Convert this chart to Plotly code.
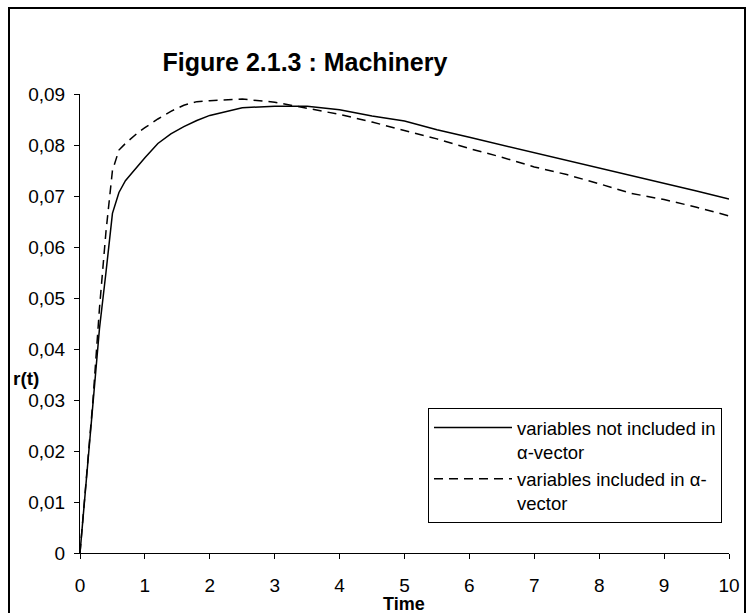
import plotly.graph_objects as go

# Data
t_vals = [0, 0.1, 0.2, 0.3, 0.4, 0.5, 0.6, 0.7, 0.8, 0.9, 1.0, 1.2, 1.4, 1.6, 1.8, 2.0,
          2.5, 3.0, 3.5, 4.0, 4.5, 5.0, 5.5, 6.0, 6.5, 7.0, 7.5, 8.0, 8.5, 9.0, 9.5, 10.0]
r_not_included = [0, 0.0146, 0.029, 0.044, 0.055, 0.0666, 0.0707, 0.0730, 0.0745, 0.0761, 0.0775,
                  0.0803, 0.0822, 0.0836, 0.0848, 0.0858, 0.0873, 0.0876, 0.0876, 0.0869, 0.0857,
                  0.0847, 0.0830, 0.0815, 0.0800, 0.0785, 0.0770, 0.0755, 0.0740, 0.0726, 0.0710, 0.0694]
r_included = [0, 0.015, 0.030, 0.048, 0.063, 0.075, 0.079, 0.0803, 0.0815, 0.0825, 0.0834,
              0.0851, 0.0866, 0.0878, 0.0885, 0.0887, 0.0890, 0.0884, 0.0872, 0.0860, 0.0845,
              0.0829, 0.0812, 0.0793, 0.0776, 0.0757, 0.0742, 0.0724, 0.0705, 0.0693, 0.0678, 0.0661]

y_tickvals = [0, 0.01, 0.02, 0.03, 0.04, 0.05, 0.06, 0.07, 0.08, 0.09]
y_ticktext = ["0", "0,01", "0,02", "0,03", "0,04", "0,05", "0,06", "0,07", "0,08", "0,09"]
x_tickvals = [0, 1, 2, 3, 4, 5, 6, 7, 8, 9, 10]

FONT = "Arial, Liberation Sans, sans-serif"

# plot area in pixels: x 80..729, y 94..553
L, R, T, B = 80, 729, 94, 553
W, H = 749, 613
px = lambda x: (x - L) / (R - L)
py = lambda y: (B - y) / (B - T)

fig = go.Figure()
fig.add_trace(go.Scatter(x=t_vals, y=r_not_included, mode="lines",
                         line=dict(color="black", width=1.5, dash="solid"),
                         name="variables not included in<br>α-vector"))
fig.add_trace(go.Scatter(x=t_vals, y=r_included, mode="lines",
                         line=dict(color="black", width=1.5, dash="9px,6px"),
                         name="variables included in α-<br>vector"))

fig.update_layout(
    width=W, height=H,
    margin=dict(l=L, r=W - R, t=T, b=H - B),
    paper_bgcolor="white", plot_bgcolor="white",
    font=dict(family=FONT, size=19, color="black"),
    title=dict(text="<b>Figure 2.1.3 : Machinery</b>", x=305 / W, xanchor="center",
               y=1 - 62 / H, yanchor="middle", font=dict(size=25)),
    showlegend=True,
    legend=dict(x=px(428), y=py(408), xanchor="left", yanchor="top",
                bordercolor="black", borderwidth=1, bgcolor="white",
                font=dict(size=18.5), valign="top", itemwidth=78),
    xaxis=dict(range=[0, 10], tickvals=x_tickvals, showgrid=False, zeroline=False,
               showline=True, linecolor="black", linewidth=1, ticks="outside", ticklen=5,
               tickcolor="black", ticklabelstandoff=10, automargin=False),
    yaxis=dict(range=[0, 0.09], tickvals=y_tickvals, ticktext=y_ticktext, showgrid=False,
               zeroline=False, showline=True, linecolor="black", linewidth=1,
               ticks="outside", ticklen=5, tickcolor="black", ticklabelstandoff=5,
               automargin=False),
    annotations=[
        dict(text="<b>r(t)</b>", xref="paper", yref="paper",
             x=px(11), y=py(378), xanchor="left", yanchor="middle",
             showarrow=False, font=dict(size=19)),
        dict(text="<b>Time</b>", xref="paper", yref="paper",
             x=px(404), y=py(604), xanchor="center", yanchor="middle",
             showarrow=False, font=dict(size=18)),
    ],
    shapes=[dict(type="rect", xref="paper", yref="paper",
                 x0=px(9), x1=px(745), y0=py(640), y1=py(8),
                 line=dict(color="black", width=2), fillcolor="rgba(0,0,0,0)", layer="below")],
)

fig.write_html("out.html", config={"displayModeBar": False},
               post_script="document.body.style.margin='0px';")
